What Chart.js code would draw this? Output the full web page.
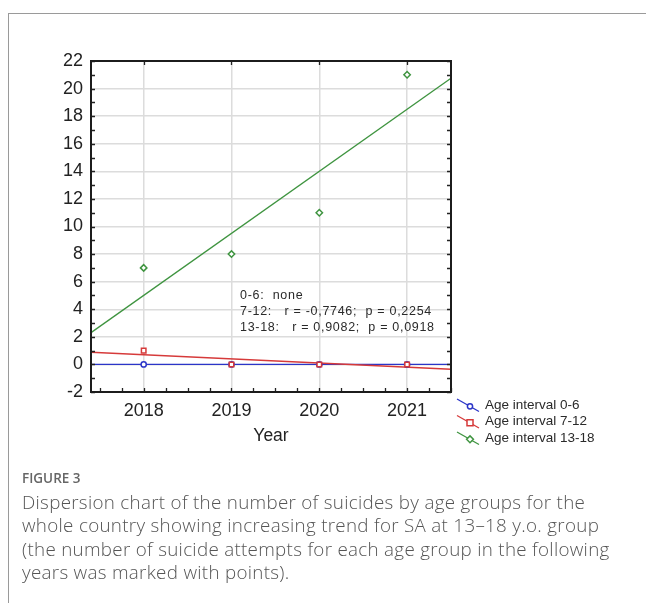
<!DOCTYPE html>
<html>
<head>
<meta charset="utf-8">
<script src="https://cdn.jsdelivr.net/npm/chart.js@4.4.1/dist/chart.umd.min.js"></script>
<style>
  html, body { margin: 0; padding: 0; background: #fff; }
  #wrap { position: relative; width: 646px; height: 603px; overflow: hidden; }
  #frame { position: absolute; left: 8px; top: 13px; width: 700px; height: 700px;
           border-left: 1px solid #9a9a9a; border-top: 1px solid #9a9a9a; }
  #chart { position: absolute; left: 0; top: 0; }
  #caption { position: absolute; left: 22px; top: 468px; width: 620px;
             font-family: "Open Sans", sans-serif; color: #555; }
  #caption .fig { font-size: 13.5px; font-weight: 600; color: #666; line-height: 20px; margin-bottom: 3px; }
  #caption .line { font-size: 18.8px; font-weight: 300; letter-spacing: 0.3px; line-height: 23.3px; white-space: nowrap; }
</style>
</head>
<body>
<div id="wrap">
  <div id="frame"></div>
  <canvas id="chart" width="646" height="603"></canvas>
  <div id="caption">
    <div class="fig">FIGURE 3</div>
    <div class="line">Dispersion chart of the number of suicides by age groups for the</div>
    <div class="line">whole country showing increasing trend for SA at 13–18 y.o. group</div>
    <div class="line">(the number of suicide attempts for each age group in the following</div>
    <div class="line">years was marked with points).</div>
  </div>
</div>
<script>
// Observed counts per year and age group
const years = [2018, 2019, 2020, 2021];
const age0to6 = [0, 0, 0, 0];
const age7to12 = [1, 0, 0, 0];
const age13to18 = [7, 8, 11, 21];

// Axis extent and trend-line values at its two ends
const xRange = [2017.4, 2021.5];
const trend0to6 = [0, 0];
const trend7to12 = [0.88, -0.35];
const trend13to18 = [2.3, 20.75];

const yMin = -2, yMax = 22, yStep = 2;

const statLines = [
  "0-6:  none",
  "7-12:   r = -0,7746;  p = 0,2254",
  "13-18:   r = 0,9082;  p = 0,0918"
];
const seriesNames = ["Age interval 0-6", "Age interval 7-12", "Age interval 13-18"];
const seriesColors = ["#2b35c8", "#d63a3a", "#3f9440"];
const seriesShapes = ["circle", "rect", "rectRot"];

const pts = vals => years.map((x, i) => ({ x, y: vals[i] }));
const trend = vals => xRange.map((x, i) => ({ x, y: vals[i] }));

function drawMarker(ctx, shape, cx, cy, color) {
  ctx.save();
  ctx.strokeStyle = color;
  ctx.lineWidth = 1.5;
  ctx.fillStyle = '#fff';
  ctx.beginPath();
  if (shape === 'circle') ctx.arc(cx, cy, 2.6, 0, Math.PI * 2);
  else if (shape === 'rect') ctx.rect(cx - 3, cy - 3, 6, 6);
  else { ctx.moveTo(cx, cy - 3.4); ctx.lineTo(cx + 3.4, cy); ctx.lineTo(cx, cy + 3.4); ctx.lineTo(cx - 3.4, cy); ctx.closePath(); }
  ctx.fill();
  ctx.stroke();
  ctx.restore();
}

const decor = {
  id: 'decor',
  afterDraw(chart) {
    const { ctx, chartArea: a, scales: { x, y } } = chart;
    ctx.save();
    // inward tick marks on all four sides
    ctx.strokeStyle = '#222';
    ctx.lineWidth = 1.3;
    ctx.beginPath();
    for (let v = Math.ceil(x.min * 4) / 4; v <= x.max; v += 0.25) {
      const px = Math.round(x.getPixelForValue(v)) + 0.5;
      ctx.moveTo(px, a.bottom); ctx.lineTo(px, a.bottom - 4);
    }
    years.forEach(v => {
      const px = Math.round(x.getPixelForValue(v)) + 0.5;
      ctx.moveTo(px, a.top); ctx.lineTo(px, a.top + 4);
    });
    for (let v = y.min; v <= y.max; v += 1) {
      const py = Math.round(y.getPixelForValue(v)) + 0.5;
      ctx.moveTo(a.left, py); ctx.lineTo(a.left + 4, py);
      ctx.moveTo(a.right, py); ctx.lineTo(a.right - 4, py);
    }
    ctx.stroke();
    // plot frame
    ctx.lineWidth = 2;
    ctx.strokeStyle = '#1c1c1c';
    ctx.strokeRect(a.left, a.top, a.width, a.height);

    // correlation statistics
    ctx.fillStyle = '#2a2a2a';
    ctx.font = '12.5px "Liberation Sans", Arial, sans-serif';
    ctx.letterSpacing = '0.7px';
    ctx.textBaseline = 'middle';
    ctx.textAlign = 'left';
    statLines.forEach((t, i) => ctx.fillText(t, a.left + 149, a.top + 235 + i * 16));
    ctx.letterSpacing = '0px';

    // legend
    ctx.font = '13.5px "Liberation Sans", Arial, sans-serif';
    seriesNames.forEach((name, i) => {
      const yc = a.top + 344 + i * 16.5;
      const x0 = a.right + 6;
      ctx.strokeStyle = seriesColors[i];
      ctx.lineWidth = 1.3;
      ctx.beginPath();
      ctx.moveTo(x0, yc - 6);
      ctx.lineTo(x0 + 22, yc + 6.5);
      ctx.stroke();
      drawMarker(ctx, seriesShapes[i], x0 + 13, yc + 1.3, seriesColors[i]);
      ctx.fillStyle = '#2a2a2a';
      ctx.fillText(name, x0 + 28, yc);
    });
    ctx.restore();
  }
};

const pointSet = (label, vals, i) => ({
  type: 'scatter',
  label,
  data: pts(vals),
  pointStyle: seriesShapes[i],
  pointRadius: seriesShapes[i] === 'circle' ? 2.6 : 3.2,
  pointBorderWidth: 1.5,
  borderColor: seriesColors[i],
  backgroundColor: '#fff',
  showLine: false,
  order: i === 0 ? 1 : 0
});
const trendSet = (vals, i) => ({
  type: 'scatter',
  data: trend(vals),
  showLine: true,
  borderColor: seriesColors[i],
  borderWidth: 1.4,
  pointRadius: 0,
  order: 5 - i
});

const axisFont = '"Liberation Sans", Arial, sans-serif';

new Chart(document.getElementById('chart'), {
  type: 'scatter',
  data: {
    datasets: [
      trendSet(trend0to6, 0),
      trendSet(trend7to12, 1),
      trendSet(trend13to18, 2),
      pointSet(seriesNames[0], age0to6, 0),
      pointSet(seriesNames[1], age7to12, 1),
      pointSet(seriesNames[2], age13to18, 2)
    ]
  },
  options: {
    responsive: false,
    animation: false,
    events: [],
    layout: { padding: { left: 0, top: 61, right: 195, bottom: 156 } },
    plugins: { legend: { display: false }, tooltip: { enabled: false } },
    scales: {
      x: {
        type: 'linear',
        min: xRange[0],
        max: xRange[1],
        afterBuildTicks: s => { s.ticks = years.map(v => ({ value: v })); },
        afterFit: s => { s.height = 55; },
        grid: { color: '#dcdcdc', lineWidth: 1.5, drawTicks: false },
        border: { display: false },
        ticks: {
          color: '#222',
          padding: 8,
          font: { family: axisFont, size: 18 },
          callback: v => String(v)
        },
        title: {
          display: true,
          text: 'Year',
          color: '#222',
          padding: { top: 4, bottom: 0 },
          font: { family: axisFont, size: 17.5 }
        }
      },
      y: {
        min: yMin,
        max: yMax,
        afterFit: s => { s.width = 91; },
        grid: { color: '#dcdcdc', lineWidth: 1.5, drawTicks: false },
        border: { display: false },
        ticks: {
          stepSize: yStep,
          color: '#222',
          padding: 8,
          font: { family: axisFont, size: 18 }
        }
      }
    }
  },
  plugins: [decor]
});
</script>
</body>
</html>
